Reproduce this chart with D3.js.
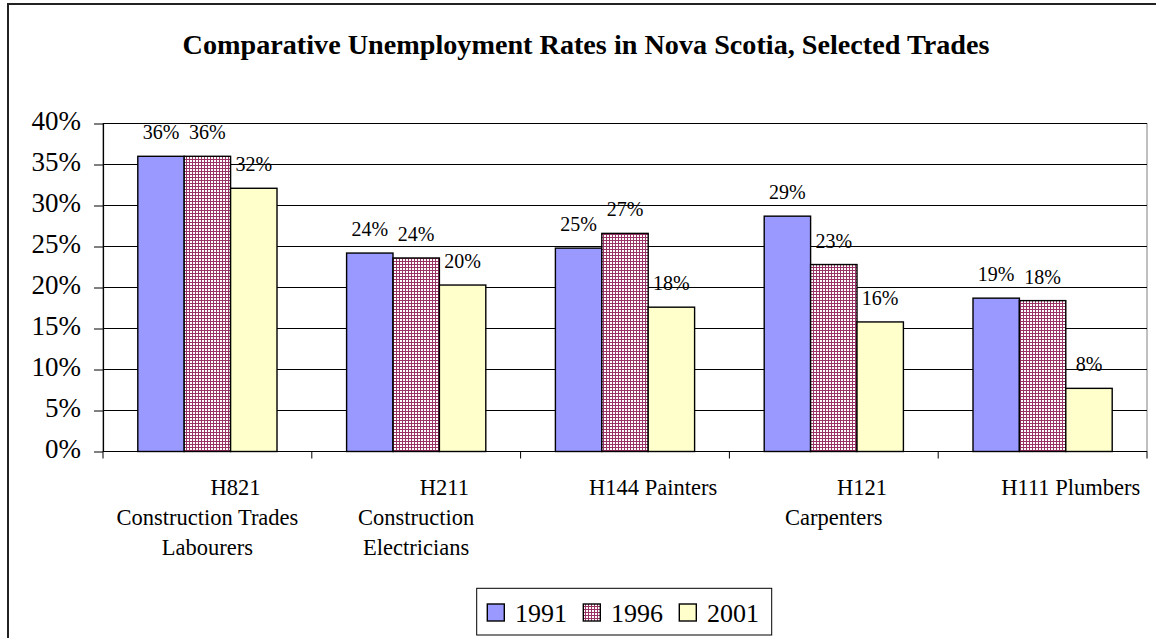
<!DOCTYPE html>
<html>
<head>
<meta charset="utf-8">
<script src="https://cdn.jsdelivr.net/npm/d3@7"></script>
<style>
  html, body { margin: 0; padding: 0; background: #fff; }
  svg { display: block; }
  text { font-family: "Liberation Serif", "Times New Roman", serif; fill: #000; }
</style>
</head>
<body>
<svg id="chart" width="1156" height="638"></svg>
<script>
// ---- data ----
const title = "Comparative Unemployment Rates in Nova Scotia, Selected Trades";
const PAD = "\u00A0".repeat(10);
const categories = ["H821", "H211", "H144", "H121", "H111"];
const categoryLines = [
  [PAD + "H821", "Construction Trades", "Labourers"],
  [PAD + "H211", "Construction", "Electricians"],
  [PAD + "H144 Painters"],
  [PAD + "H121", "Carpenters"],
  [PAD + "H111 Plumbers"]
];
const years = ["1991", "1996", "2001"];
const values1991 = [36.0, 24.2, 24.8, 28.7, 18.7];
const values1996 = [36.0, 23.6, 26.6, 22.8, 18.4];
const values2001 = [32.1, 20.3, 17.6, 15.8, 7.7];
const yTicks = [0, 5, 10, 15, 20, 25, 30, 35, 40];

const seriesValues = { "1991": values1991, "1996": values1996, "2001": values2001 };

// ---- layout ----
const plot = { left: 103, right: 1147, top: 123.5, bottom: 451.5 };
const svg = d3.select("#chart");
const defs = svg.append("defs");

const pat = defs.append("pattern")
  .attr("id", "grid96").attr("patternUnits", "userSpaceOnUse")
  .attr("width", 3).attr("height", 3);
pat.append("rect").attr("width", 3).attr("height", 3).attr("fill", "#993366");
pat.append("rect").attr("x", 1).attr("y", 1).attr("width", 2).attr("height", 2).attr("fill", "#ffffff");

const fills = { "1991": "#9999FF", "1996": "url(#grid96)", "2001": "#FFFFCC" };

// outer frame
svg.append("rect").attr("x", 8).attr("y", 4).attr("width", 1170).attr("height", 650)
  .attr("fill", "none").attr("stroke", "#222").attr("stroke-width", 2);

// title
svg.append("text").attr("x", 586).attr("y", 53.5).attr("text-anchor", "middle")
  .attr("font-weight", "bold").attr("font-size", 28.2).text(title);

// scales
const x = d3.scaleBand().domain(categories).range([plot.left, plot.right]).paddingInner(0).paddingOuter(0);
const xs = d3.scaleBand().domain(years).range([0, x.bandwidth()]).paddingInner(0).paddingOuter(0.75);
const y = d3.scaleLinear().domain([0, 40]).range([plot.bottom, plot.top]);

// plot area border (gray)
svg.append("rect").attr("x", plot.left).attr("y", plot.top)
  .attr("width", plot.right - plot.left).attr("height", plot.bottom - plot.top)
  .attr("fill", "#fff").attr("stroke", "#808080").attr("stroke-width", 1);

// gridlines
svg.append("g").selectAll("line").data(yTicks.filter(d => d > 0)).join("line")
  .attr("x1", plot.left).attr("x2", plot.right)
  .attr("y1", d => y(d)).attr("y2", d => y(d))
  .attr("stroke", "#000").attr("stroke-width", 1);

// bars
const groups = svg.append("g").selectAll("g").data(years).join("g");
groups.selectAll("rect").data(yr => categories.map((c, i) => ({ yr, c, v: seriesValues[yr][i] })))
  .join("rect")
  .attr("x", d => x(d.c) + xs(d.yr))
  .attr("y", d => y(d.v))
  .attr("width", xs.bandwidth())
  .attr("height", d => y(0) - y(d.v))
  .attr("fill", d => fills[d.yr])
  .attr("stroke", "#000").attr("stroke-width", 1.4);

// data labels
const fmt = d3.format(".0%");
groups.selectAll("text").data(yr => categories.map((c, i) => ({ yr, c, v: seriesValues[yr][i] })))
  .join("text")
  .attr("x", d => x(d.c) + xs(d.yr) + xs.bandwidth() / 2)
  .attr("y", d => y(d.v) - 17)
  .attr("text-anchor", "middle").attr("font-size", 20)
  .text(d => fmt(d.v / 100));

// y axis
const yAxis = d3.axisLeft(y).tickValues(yTicks).tickSize(9).tickSizeOuter(0).tickPadding(13)
  .tickFormat(d => d + "%");
const gy = svg.append("g").attr("transform", `translate(${plot.left},0)`).call(yAxis);
gy.attr("font-family", null);
gy.select(".domain").attr("stroke", "#000").attr("stroke-width", 1.2);
gy.selectAll(".tick line").attr("stroke", "#000");
gy.selectAll(".tick text").attr("font-size", 27).attr("dy", "0.24em");

// x axis line + ticks
svg.append("line").attr("x1", plot.left).attr("x2", plot.right)
  .attr("y1", y(0)).attr("y2", y(0)).attr("stroke", "#000").attr("stroke-width", 1.2);
const boundaries = categories.map(c => x(c)).concat([x(categories[categories.length - 1]) + x.bandwidth()]);
svg.append("g").selectAll("line").data(boundaries).join("line")
  .attr("x1", d => d).attr("x2", d => d)
  .attr("y1", y(0)).attr("y2", y(0) + 7)
  .attr("stroke", "#000").attr("stroke-width", 1);

// x labels
const xl = svg.append("g").selectAll("text").data(categories).join("text")
  .attr("text-anchor", "middle").attr("font-size", 22.5)
  .attr("transform", c => `translate(${x(c) + x.bandwidth() / 2},${y(0) + 43.5})`);
xl.selectAll("tspan").data((c, i) => categoryLines[i]).join("tspan")
  .attr("x", 0).attr("y", (d, j) => j * 30).text(d => d);

// legend
const lg = svg.append("g");
const legendBox = lg.append("rect").attr("fill", "#fff").attr("stroke", "#000").attr("stroke-width", 1);
let cx = 487.3;
const ly = 604;
years.forEach((yr, i) => {
  lg.append("rect").attr("x", cx).attr("y", ly).attr("width", 17).attr("height", 17)
    .attr("fill", fills[yr]).attr("stroke", "#000").attr("stroke-width", 1.4);
  const t = lg.append("text").attr("x", cx + 27.7).attr("y", 622.3).attr("font-size", 26).text(yr);
  const w = t.node().getComputedTextLength();
  cx = cx + 27.7 + w + (i < years.length - 1 ? 16.3 : 12.7);
});
legendBox.attr("x", 476.7).attr("y", 588.3).attr("width", cx - 476.7).attr("height", 46.7);
</script>
</body>
</html>
